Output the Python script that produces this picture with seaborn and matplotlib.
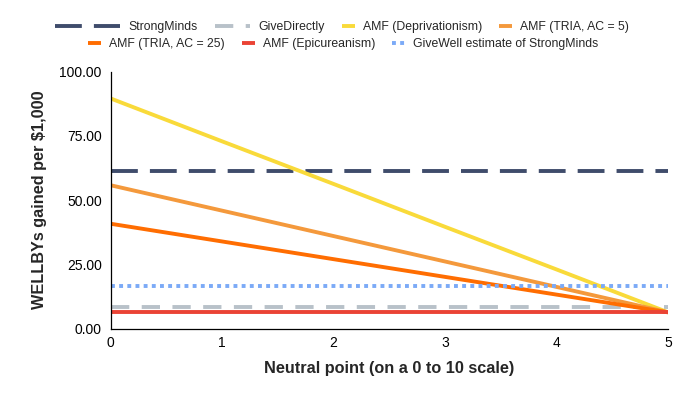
#importing libraries
import pandas as pd
import seaborn as sns
import matplotlib.pyplot as plt

sns.set_style("white")
plt.rcParams['font.family'] = ['Liberation Sans', 'DejaVu Sans']

#values (neutral point 0..5)
neutral_point = [0, 1, 2, 3, 4, 5]
strongminds = [61.4, 61.4, 61.4, 61.4, 61.4, 61.4]
givedirectly = [8.2, 8.2, 8.2, 8.2, 8.2, 8.2]
amf_depriv = [89.6, 72.9, 56.3, 39.6, 23.0, 6.3]
amf_tria_5 = [55.8, 45.9, 36.0, 26.1, 16.2, 6.3]
amf_tria_25 = [40.8, 33.9, 27.0, 20.1, 13.2, 6.3]
amf_epicurean = [6.3, 6.3, 6.3, 6.3, 6.3, 6.3]
givewell_sm = [16.6, 16.6, 16.6, 16.6, 16.6, 16.6]

y_ticks = [0, 25, 50, 75, 100]

series = [
    ("StrongMinds", strongminds, "#3f4c6b", (0, (6.9, 3.1))),
    ("GiveDirectly", givedirectly, "#b8c1c9", (0, (4.7, 3.2))),
    ("AMF (Deprivationism)", amf_depriv, "#f9da3a", "-"),
    ("AMF (TRIA, AC = 5)", amf_tria_5, "#f4993c", "-"),
    ("AMF (TRIA, AC = 25)", amf_tria_25, "#ff6d01", "-"),
    ("AMF (Epicureanism)", amf_epicurean, "#ea4335", "-"),
    ("GiveWell estimate of StrongMinds", givewell_sm, "#7baaf7", (0, (1.0, 1.1))),
]

fig = plt.figure(figsize=(6.87, 3.97), dpi=100)
ax = fig.add_axes([110.5/687, 1-328.5/397, 557.5/687, (328.5-71.7)/397])

for name, vals, col, ls in series:
    sns.lineplot(x=neutral_point, y=vals, ax=ax, color=col, linestyle=ls,
                 linewidth=2.8, label=name, solid_capstyle='butt')

if ax.get_legend() is not None:
    ax.get_legend().remove()

ax.set_xlim(0, 5)
ax.set_ylim(0, 100)
ax.set_yticks(y_ticks)
ax.set_yticklabels(["%.2f" % v for v in y_ticks])
ax.tick_params(axis='both', length=0, labelsize=10, colors='#000000')
ax.tick_params(axis='x', pad=5.2)
ax.tick_params(axis='y', pad=6.3)

for s in ['top', 'right']:
    ax.spines[s].set_visible(False)
for s in ['left', 'bottom']:
    ax.spines[s].set_color('#000000')
    ax.spines[s].set_linewidth(0.9)

ax.set_xlabel("Neutral point (on a 0 to 10 scale)", fontsize=11.7, fontweight='bold')
ax.set_ylabel("WELLBYs gained per $1,000", fontsize=11.7, fontweight='bold')
ax.xaxis.label.set_va('center')
ax.yaxis.label.set_va('center')
ax.xaxis.set_label_coords(0.5, (328.5-369)/256.8)
ax.yaxis.set_label_coords((40-110.5)/557.5, 0.5)

#legend built in four pieces so the handle lengths can differ like the original
h, l = ax.get_legend_handles_labels()
hd = dict(zip(l, h))
fs = 8.8
em = fs * 100 / 72
groups = [
    (["StrongMinds"], 55, 27, 65),
    (["GiveDirectly"], 215, 27, 35),
    (["AMF (Deprivationism)", "AMF (TRIA, AC = 5)"], 342, 27, 13),
    (["AMF (TRIA, AC = 25)", "AMF (Epicureanism)", "GiveWell estimate of StrongMinds"], 88, 44, 13),
]
for names, x0, y0, hl in groups:
    fig.legend([hd[n] for n in names], names, loc='center left',
               bbox_to_anchor=(x0/687, 1-y0/397), ncol=len(names),
               frameon=False, borderpad=0, borderaxespad=0,
               handlelength=hl/em, handletextpad=8/em, columnspacing=17/em,
               fontsize=fs)

plt.savefig("out.png", dpi=100)
